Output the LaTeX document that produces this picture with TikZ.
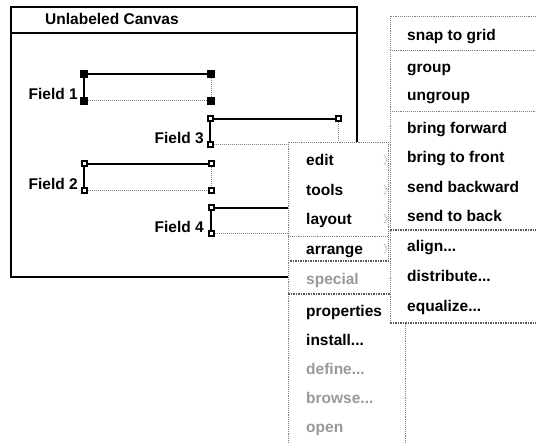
\documentclass[tikz,border=0pt]{standalone}
\usepackage{fontspec}
\setmainfont{Liberation Sans}
\newcommand{\uifont}{\bfseries\fontsize{15.5}{16}\selectfont}
\tikzset{
  solidedge/.style={line width=2pt, black},
  dotedge/.style={line width=1pt, black!50, densely dotted},
  menuline/.style={line width=0.9pt, black!50, densely dotted},
  shadowline/.style={line width=1.5pt, black!65, densely dotted},
  fullhandle/.style={rectangle, fill=black, draw=none, minimum size=8pt, inner sep=0pt},
  openhandle/.style={rectangle, fill=white, draw=black, line width=2pt, minimum size=5pt, inner sep=0pt},
  item/.style={anchor=base west, font=\uifont, inner sep=0pt},
  dimitem/.style={item, text=black!40},
  flabel/.style={anchor=base east, font=\uifont, inner sep=0pt},
  submark/.style={line width=0.9pt, black!45, densely dotted},
}
\begin{document}
\begin{tikzpicture}[x=1pt, y=-1pt]
\useasboundingbox (0,0) rectangle (536,443);
\fill[white] (0,0) rectangle (536,443);

% canvas window
\draw[line width=2.5pt] (11,7) rectangle (357,277);
\draw[line width=2pt] (11,33) -- (357,33);
\node[item] (title) at (45,25) {Unlabeled Canvas};

% Field 1 (selected: filled handles)
\node[fullhandle] (f1tl) at (84,74) {};
\node[fullhandle] (f1tr) at (211,74) {};
\node[fullhandle] (f1bl) at (84,101) {};
\node[fullhandle] (f1br) at (211,101) {};
\draw[solidedge] (f1tl) -- (f1tr);
\draw[solidedge] (f1tl) -- (f1bl);
\draw[dotedge] (f1bl) -- (f1br);
\draw[dotedge] (f1tr) -- (f1br);
\node[flabel] (f1lab) at (78,100) {Field 1};

% Field 3
\node[openhandle] (f3tl) at (210,119) {};
\node[openhandle] (f3tr) at (338,119) {};
\node[openhandle] (f3bl) at (210,145) {};
\coordinate (f3br) at (338,145);
\draw[solidedge] (f3tl) -- (f3tr);
\draw[solidedge] (f3tl) -- (f3bl);
\draw[dotedge] (f3bl) -- (f3br);
\draw[dotedge] (f3tr) -- (f3br);
\node[flabel] (f3lab) at (204,144) {Field 3};

% Field 2
\node[openhandle] (f2tl) at (84,164) {};
\node[openhandle] (f2tr) at (211,164) {};
\node[openhandle] (f2bl) at (84,191) {};
\node[openhandle] (f2br) at (211,191) {};
\draw[solidedge] (f2tl) -- (f2tr);
\draw[solidedge] (f2tl) -- (f2bl);
\draw[dotedge] (f2bl) -- (f2br);
\draw[dotedge] (f2tr) -- (f2br);
\node[flabel] (f2lab) at (78,190) {Field 2};

% Field 4
\node[openhandle] (f4tl) at (211,208) {};
\node[openhandle] (f4bl) at (211,234) {};
\coordinate (f4tr) at (338,208);
\coordinate (f4br) at (338,234);
\draw[solidedge] (f4tl) -- (f4tr);
\draw[solidedge] (f4tl) -- (f4bl);
\draw[dotedge] (f4bl) -- (f4br);
\node[flabel] (f4lab) at (204,233) {Field 4};

% main popup menu
\fill[white] (288,142) rectangle (405,443);
\draw[menuline] (288,443) -- (288,142) -- (405,142) -- (405,443);
\draw[menuline] (388,142) -- (388,261);
\draw[menuline] (288,236) -- (388,236);
\draw[shadowline] (290,261) -- (390,261);
\draw[shadowline] (288,294) -- (405,294);
\foreach \c in {160,190,219,249} {
  \draw[submark] (384,\c-5) -- (387,\c) -- (384,\c+5);
}
\node[item] (edit) at (306,166) {edit};
\node[item] (tools) at (306,195.5) {tools};
\node[item] (layout) at (306,225) {layout};
\node[item] (arrange) at (306,254.5) {arrange};
\node[dimitem] (special) at (306,285) {special};
\node[item] (props) at (306,316.5) {properties};
\node[item] (install) at (306,345.5) {install...};
\node[dimitem] (define) at (306,375) {define...};
\node[dimitem] (browse) at (306,404) {browse...};
\node[dimitem] (open) at (306,433) {open};

% arrange submenu
\fill[white] (390,16) rectangle (536,323);
\draw[menuline] (536,16) -- (390,16) -- (390,323);
\draw[shadowline] (390,323) -- (536,323);
\draw[menuline] (390,50) -- (536,50);
\draw[menuline] (390,111) -- (536,111);
\draw[shadowline] (390,230) -- (536,230);
\node[item] (snap) at (407,41) {snap to grid};
\node[item] (group) at (407,73) {group};
\node[item] (ungroup) at (407,101) {ungroup};
\node[item] (bfwd) at (407,133.5) {bring forward};
\node[item] (bfront) at (407,163) {bring to front};
\node[item] (sbwd) at (407,192.5) {send backward};
\node[item] (sback) at (407,222) {send to back};
\node[item] (align) at (407,252) {align...};
\node[item] (distrib) at (407,282) {distribute...};
\node[item] (equal) at (407,311.5) {equalize...};
\end{tikzpicture}
\end{document}
